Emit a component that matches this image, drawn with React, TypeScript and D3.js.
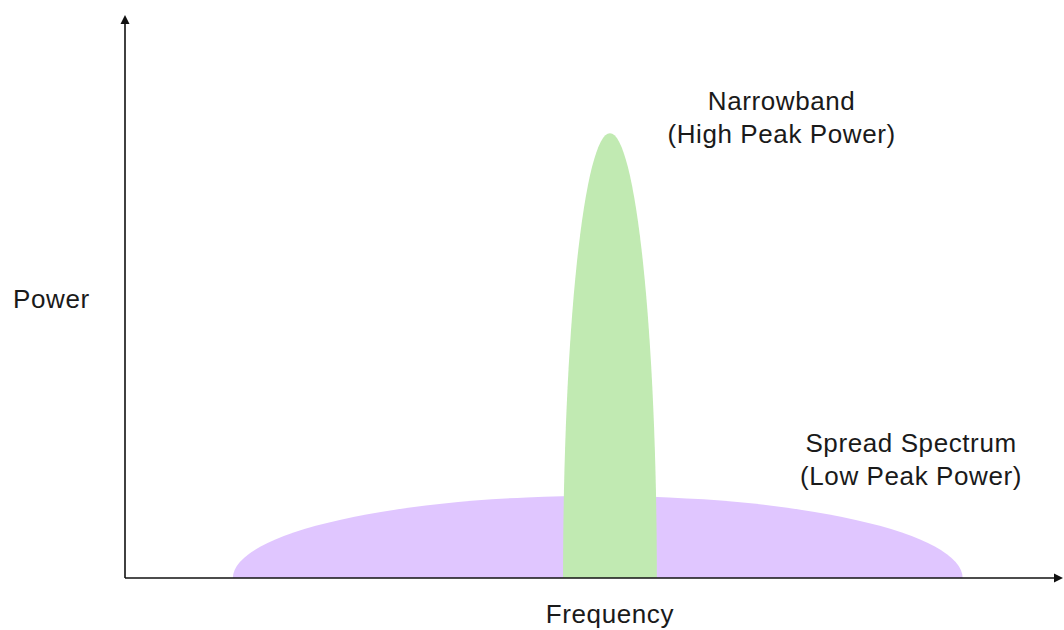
import React from 'react';
import * as d3 from 'd3';

// signals: centre frequency, half bandwidth, peak power (arbitrary units)
const signalNames: string[] = ['Spread Spectrum', 'Narrowband'];
const signalCentres: number[] = [50.4, 51.7];
const signalHalfWidths: number[] = [38.9, 5.0];
const signalPeaks: number[] = [14.6, 79.0];
const signalColors: string[] = ['#e0c6ff', '#c1eab2'];

// annotation labels: [line1, line2], anchored at (frequency, power)
const labelLines: string[][] = [
    ['Spread Spectrum', '(Low Peak Power)'],
    ['Narrowband', '(High Peak Power)'],
];
const labelFreqs: number[] = [83.8, 70.0];
const labelPowers: number[] = [22.4, 83.1];

const xAxisTitle = 'Frequency';
const yAxisTitle = 'Power';

const width = 1064;
const height = 630;
const margin = { top: 15, right: 1, bottom: 52, left: 125 };
const font = '"Liberation Sans", Arial, Helvetica, sans-serif';

function App() {
    const x = d3.scaleLinear()
        .domain([0, 100])
        .range([margin.left, width - margin.right]);

    const y = d3.scaleLinear()
        .domain([0, 100])
        .range([height - margin.bottom, margin.top]);

    const x0 = x(0);
    const y0 = y(0);

    const textStyle: React.CSSProperties = {
        fontFamily: font,
        fontSize: 26,
        letterSpacing: 0.6,
        fill: '#1a1a1a',
    };

    return (
        <svg
            width={width}
            height={height}
            style={{ position: 'absolute', left: 0, top: 0, background: '#fff' }}
        >
            <defs>
                <clipPath id="above-axis">
                    <rect x={0} y={0} width={width} height={y0} />
                </clipPath>
            </defs>

            <g className="signals" clipPath="url(#above-axis)">
                {signalNames.map((name, i) => (
                    <ellipse
                        key={name}
                        cx={x(signalCentres[i])}
                        cy={y0}
                        rx={x(signalCentres[i] + signalHalfWidths[i]) - x(signalCentres[i])}
                        ry={y0 - y(signalPeaks[i])}
                        fill={signalColors[i]}
                    />
                ))}
            </g>

            <g className="axes" stroke="#111" strokeWidth={1.6} fill="#111">
                <line x1={x0} y1={y0} x2={x(100) - 7} y2={y0} />
                <line x1={x0} y1={y0} x2={x0} y2={y(100) + 7} />
                <path
                    d={`M${x(100)},${y0} L${x(100) - 9},${y0 - 4.5} L${x(100) - 9},${y0 + 4.5} Z`}
                    stroke="none"
                />
                <path
                    d={`M${x0},${y(100)} L${x0 - 4.5},${y(100) + 9} L${x0 + 4.5},${y(100) + 9} Z`}
                    stroke="none"
                />
            </g>

            <text x={x(51.7)} y={y0 + 45} textAnchor="middle" style={textStyle}>
                {xAxisTitle}
            </text>
            <text x={13} y={308} style={textStyle}>
                {yAxisTitle}
            </text>

            {labelLines.map((lines, i) => (
                <text
                    key={lines[0]}
                    x={x(labelFreqs[i])}
                    y={y(labelPowers[i])}
                    textAnchor="middle"
                    style={textStyle}
                >
                    {lines.map((line, j) => (
                        <tspan key={line} x={x(labelFreqs[i])} dy={j === 0 ? 0 : 33}>
                            {line}
                        </tspan>
                    ))}
                </text>
            ))}
        </svg>
    );
}

export default App;
